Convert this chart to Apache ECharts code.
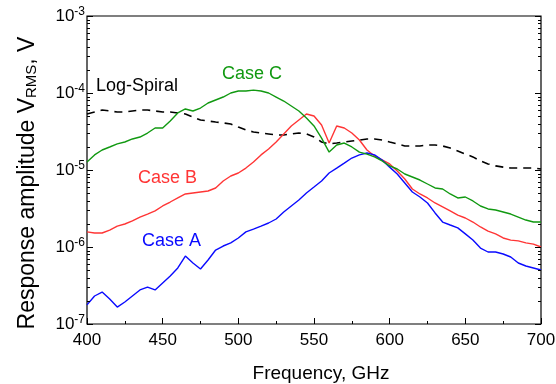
<!DOCTYPE html>
<html>
<head>
<meta charset="utf-8">
<script src="https://cdn.jsdelivr.net/npm/echarts@6/dist/echarts.min.js"></script>
<style>
  html, body { margin: 0; padding: 0; background: #fff; }
  #chart { width: 556px; height: 384px; }
</style>
</head>
<body>
<div id="chart"></div>
<script>
// frequency, GHz
const freq = [400, 405, 410, 415, 420, 425, 430, 435, 440, 445, 450, 455, 460, 465, 470, 475, 480, 485, 490, 495,
  500, 505, 510, 515, 520, 525, 530, 535, 540, 545, 550, 555, 560, 565, 570, 575, 580, 585, 590, 595,
  600, 605, 610, 615, 620, 625, 630, 635, 640, 645, 650, 655, 660, 665, 670, 675, 680, 685, 690, 695, 700]

const logSpiral = [5.34e-5, 5.67e-5, 6.01e-5, 5.84e-5, 5.67e-5, 5.67e-5, 5.84e-5, 6.01e-5, 6.01e-5, 5.84e-5,
  5.67e-5, 5.67e-5, 5.5e-5, 5.34e-5, 4.88e-5, 4.46e-5, 4.33e-5, 4.2e-5, 4.08e-5, 3.96e-5,
  3.61e-5, 3.31e-5, 3.12e-5, 3.02e-5, 2.94e-5, 2.85e-5, 2.85e-5, 2.94e-5, 3.02e-5, 2.94e-5,
  2.68e-5, 2.31e-5, 2.18e-5, 2.24e-5, 2.31e-5, 2.38e-5, 2.45e-5, 2.53e-5, 2.53e-5, 2.45e-5,
  2.31e-5, 2.18e-5, 2.05e-5, 2.05e-5, 2.05e-5, 2.11e-5, 2.11e-5, 2.05e-5, 1.93e-5, 1.77e-5,
  1.61e-5, 1.48e-5, 1.31e-5, 1.2e-5, 1.13e-5, 1.09e-5, 1.06e-5, 1.06e-5, 1.06e-5, 1.06e-5, 1.03e-5]

const caseA = [1.77e-7, 2.31e-7, 2.6e-7, 2.11e-7, 1.66e-7, 1.93e-7, 2.31e-7, 2.77e-7, 3.02e-7, 2.77e-7,
  3.41e-7, 4.2e-7, 5.34e-7, 7.64e-7, 6.2e-7, 5.18e-7, 6.78e-7, 9.14e-7, 1.03e-6, 1.13e-6,
  1.31e-6, 1.57e-6, 1.71e-6, 1.87e-6, 2.05e-6, 2.31e-6, 2.85e-6, 3.41e-6, 4.08e-6, 5.03e-6,
  6.01e-6, 7.2e-6, 9.14e-6, 1.06e-5, 1.23e-5, 1.43e-5, 1.57e-5, 1.66e-5, 1.57e-5, 1.35e-5,
  1.09e-5, 8.87e-6, 6.78e-6, 5.18e-6, 4.46e-6, 3.73e-6, 2.77e-6, 2.11e-6, 1.93e-6, 1.77e-6,
  1.48e-6, 1.23e-6, 9.7e-7, 8.61e-7, 8.61e-7, 8.11e-7, 7.41e-7, 6.2e-7, 5.67e-7, 5.34e-7, 5.03e-7]

const caseB = [1.57e-6, 1.52e-6, 1.52e-6, 1.66e-6, 1.87e-6, 1.99e-6, 2.18e-6, 2.45e-6, 2.68e-6, 2.94e-6,
  3.41e-6, 3.84e-6, 4.33e-6, 4.88e-6, 5.03e-6, 5.18e-6, 5.34e-6, 5.84e-6, 7.2e-6, 8.36e-6,
  9.14e-6, 1.06e-5, 1.27e-5, 1.57e-5, 1.87e-5, 2.31e-5, 2.94e-5, 3.73e-5, 4.46e-5, 5.34e-5,
  5.03e-5, 3.84e-5, 2.24e-5, 3.73e-5, 3.51e-5, 3.02e-5, 2.45e-5, 1.82e-5, 1.52e-5, 1.35e-5,
  1.2e-5, 9.7e-6, 7.64e-6, 5.67e-6, 4.88e-6, 4.33e-6, 3.73e-6, 3.31e-6, 2.94e-6, 2.6e-6,
  2.38e-6, 2.11e-6, 1.82e-6, 1.61e-6, 1.48e-6, 1.31e-6, 1.23e-6, 1.2e-6, 1.13e-6, 1.09e-6, 1.0e-6]

const caseC = [1.27e-5, 1.57e-5, 1.82e-5, 1.99e-5, 2.18e-5, 2.31e-5, 2.53e-5, 2.68e-5, 3.02e-5, 3.51e-5,
  3.51e-5, 4.33e-5, 5.5e-5, 6.2e-5, 5.84e-5, 6.38e-5, 7.41e-5, 8.11e-5, 8.87e-5, 1.0e-4,
  1.06e-4, 1.06e-4, 1.09e-4, 1.06e-4, 1.0e-4, 8.87e-5, 7.87e-5, 6.78e-5, 5.84e-5, 4.73e-5,
  3.73e-5, 2.6e-5, 1.71e-5, 2.11e-5, 2.24e-5, 1.99e-5, 1.71e-5, 1.61e-5, 1.48e-5, 1.31e-5,
  1.13e-5, 1.03e-5, 8.87e-6, 8.11e-6, 7.41e-6, 6.58e-6, 5.84e-6, 5.67e-6, 4.88e-6, 4.33e-6,
  4.46e-6, 3.96e-6, 3.41e-6, 3.12e-6, 3.02e-6, 2.85e-6, 2.68e-6, 2.45e-6, 2.24e-6, 2.11e-6, 2.11e-6]

const FONT = "'Liberation Sans', Arial, sans-serif"

// y ticks on both sides: decades long, 2..9 short
const yTicks = []
for (let e = -7; e <= -3; e++) {
  yTicks.push([400, Math.pow(10, e), 6])
  if (e < -3) {
    for (let m = 2; m <= 9; m++) yTicks.push([400, m * Math.pow(10, e), 3])
  }
}

const pairs = (ys) => freq.map((f, i) => [f, ys[i]])

const chart = echarts.init(document.getElementById('chart'), null, { renderer: 'canvas' })

const option = {
  animation: false,
  grid: {
    left: 87,
    right: 15,
    top: 16,
    bottom: 60,
    outerBoundsMode: 'none',
    show: true,
    borderColor: '#000',
    borderWidth: 1.2,
    backgroundColor: 'transparent'
  },
  xAxis: {
    type: 'value',
    min: 400,
    max: 700,
    interval: 50,
    name: 'Frequency, GHz',
    nameLocation: 'middle',
    nameGap: 40,
    nameTextStyle: { fontFamily: FONT, fontSize: 19, color: '#000', padding: [0, 0, 0, 14] },
    axisLine: { show: false },
    splitLine: { show: false },
    axisTick: { inside: true, length: 6, lineStyle: { color: '#000' } },
    minorTick: { show: true, splitNumber: 2, length: 3, lineStyle: { color: '#000' } },
    axisLabel: { fontFamily: FONT, fontSize: 17, color: '#000', margin: 8 }
  },
  yAxis: {
    type: 'log',
    logBase: 10,
    min: 1e-7,
    max: 1e-3,
    name: '{a|Response amplitude V}{s|RMS}{a|, V}',
    nameLocation: 'middle',
    nameGap: 48,
    nameTextStyle: {
      padding: [0, 26, 0, 0],
      rich: {
        a: { fontFamily: FONT, fontSize: 23, color: '#000' },
        s: { fontFamily: FONT, fontSize: 15, color: '#000', verticalAlign: 'bottom', padding: [7, 0, 0, 0] }
      }
    },
    axisLine: { show: false },
    splitLine: { show: false },
    axisTick: { show: false },
    axisLabel: {
      margin: 2,
      formatter: (v) => '{b|10}{e|' + Math.round(Math.log10(v)) + '}',
      rich: {
        b: { fontFamily: FONT, fontSize: 17, color: '#000' },
        e: { fontFamily: FONT, fontSize: 12, color: '#000', verticalAlign: 'top', padding: [0, 0, 8, 0] }
      }
    }
  },
  series: [
    {
      name: 'Log-Spiral',
      type: 'line',
      showSymbol: false,
      data: pairs(logSpiral),
      lineStyle: { color: '#000', width: 1.6, type: [8, 6] }
    },
    {
      name: 'Case B',
      type: 'line',
      showSymbol: false,
      data: pairs(caseB),
      lineStyle: { color: '#ff3535', width: 1.4 }
    },
    {
      name: 'Case A',
      type: 'line',
      showSymbol: false,
      data: pairs(caseA),
      lineStyle: { color: '#0a0aff', width: 1.4 }
    },
    {
      name: 'Case C',
      type: 'line',
      showSymbol: false,
      data: pairs(caseC),
      lineStyle: { color: '#119911', width: 1.4 }
    },
    {
      // log axis ticks, left and right
      type: 'custom',
      silent: true,
      clip: false,
      z: 10,
      data: yTicks,
      renderItem: (params, api) => {
        const v = api.value(1)
        const len = api.value(2)
        const l = api.coord([400, v])
        const r = api.coord([700, v])
        const y = Math.round(l[1]) + 0.5
        return {
          type: 'group',
          children: [
            { type: 'line', shape: { x1: l[0], y1: y, x2: l[0] + len, y2: y }, style: { stroke: '#000', lineWidth: 1 } },
            { type: 'line', shape: { x1: r[0], y1: y, x2: r[0] - len, y2: y }, style: { stroke: '#000', lineWidth: 1 } }
          ]
        }
      }
    }
  ],
  graphic: [
    { type: 'text', left: 96, top: 77, style: { text: 'Log-Spiral', fill: '#000', font: '18px ' + FONT } },
    { type: 'text', left: 222, top: 65, style: { text: 'Case C', fill: '#119911', font: '18px ' + FONT } },
    { type: 'text', left: 138, top: 169, style: { text: 'Case B', fill: '#ff3535', font: '18px ' + FONT } },
    { type: 'text', left: 142, top: 232, style: { text: 'Case A', fill: '#0a0aff', font: '18px ' + FONT } }
  ]
}

chart.setOption(option)
</script>
</body>
</html>
